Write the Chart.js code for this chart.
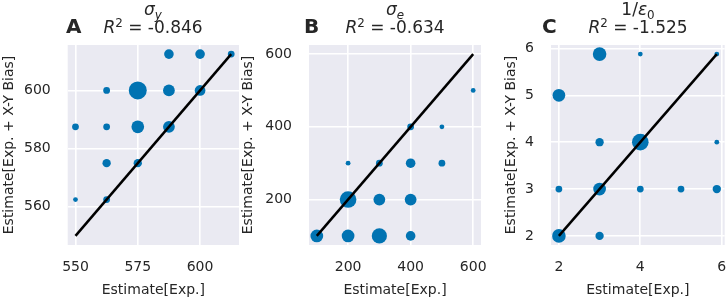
<!DOCTYPE html>
<html>
<head>
<meta charset="utf-8">
<script src="https://cdn.jsdelivr.net/npm/chart.js@4.4.1/dist/chart.umd.min.js"></script>
<style>
  body { margin: 0; background: #fff; }
  #wrap { position: relative; width: 726px; height: 299px; overflow: hidden; font-family: "DejaVu Sans"; color: #262626; }
  canvas { position: absolute; top: 0; }
  .ttl { position: absolute; top: 0; width: 200px; text-align: center; font-size: 17px; line-height: 18.3px; white-space: nowrap; }
  .ttl sub, .ttl sup { font-size: 0.7em; line-height: 0; position: relative; vertical-align: baseline; }
  .ttl sub { top: 0.35em; }
  .ttl sup { top: -0.5em; }
  .lbl { position: absolute; top: 16px; font-weight: bold; font-size: 20px; line-height: 20px; }
</style>
</head>
<body>
<div id="wrap">
  <canvas id="chartA" width="239" height="299" style="left:1px"></canvas>
  <canvas id="chartB" width="262" height="299" style="left:240px"></canvas>
  <canvas id="chartC" width="223" height="299" style="left:503px"></canvas>

  <div class="lbl" style="left:66px">A</div>
  <div class="ttl" style="left:53px"><i>σ</i><sub><i>y</i></sub><br><i>R</i><sup>2</sup> = -0.846</div>
  <div class="lbl" style="left:304px">B</div>
  <div class="ttl" style="left:295px"><i>σ</i><sub><i>e</i></sub><br><i>R</i><sup>2</sup> = -0.634</div>
  <div class="lbl" style="left:542px">C</div>
  <div class="ttl" style="left:538px">1/<i>ε</i><sub>0</sub><br><i>R</i><sup>2</sup> = -1.525</div>
</div>
<script>
// panel A: sigma_y
const aX = [587.5, 600, 612.5, 562.5, 575, 587.5, 600, 550, 562.5, 575, 587.5, 562.5, 575, 550, 562.5];
const aY = [612.5, 612.5, 612.5, 600, 600, 600, 600, 587.5, 587.5, 587.5, 587.5, 575, 575, 562.5, 562.5];
const aCount = [4, 4, 2, 2, 14, 6, 5, 2, 2, 7, 6, 3, 3, 1, 2];
const aTicksX = [550, 575, 600];
const aTicksY = [560, 580, 600];

// panel B: sigma_e
const bX = [600, 400, 500, 200, 300, 400, 500, 200, 300, 400, 100, 200, 300, 400];
const bY = [500, 400, 400, 300, 300, 300, 300, 200, 200, 200, 100, 100, 100, 100];
const bCount = [1, 2, 1, 1, 2, 4, 2, 12, 6, 6, 7, 7, 10, 4];
const bTicksX = [200, 400, 600];
const bTicksY = [200, 400, 600];

// panel C: 1/eps_0
const cX = [3, 4, 5.88, 2, 3, 4, 5.88, 2, 3, 4, 5, 5.88, 2, 3];
const cY = [5.88, 5.88, 5.88, 5, 4, 4, 4, 3, 3, 3, 3, 3, 2, 2];
const cCount = [8, 1, 1, 7, 3, 12, 1, 2, 7, 2, 2, 3, 8, 3];
const cTicksX = [2, 4, 6];
const cTicksY = [2, 3, 4, 5, 6];

const font = { family: "DejaVu Sans", size: 14 };
const ink = "#262626";
const blue = "#0173b2";

const bgPlugin = {
  id: "bg",
  beforeDraw(chart) {
    const { ctx, chartArea: a } = chart;
    ctx.save();
    ctx.fillStyle = "#eaeaf2";
    ctx.fillRect(a.left, a.top, a.right - a.left, a.bottom - a.top);
    ctx.restore();
  }
};

function makeChart(id, xs, ys, counts, ticksX, ticksY, yWidth, padRight) {
  const lo = Math.min(...xs, ...ys);
  const hi = Math.max(...xs, ...ys);
  const m = (hi - lo) * 0.05;

  const axis = (ticks, title, pad) => ({
    type: "linear",
    min: lo - m,
    max: hi + m,
    afterBuildTicks: s => { s.ticks = ticks.map(v => ({ value: v })); },
    ticks: { font, color: ink, padding: pad },
    grid: { color: "#fff", lineWidth: 1.6, drawTicks: false },
    border: { display: false },
    title: { display: true, text: title, font, color: ink, padding: 0 },
  });

  const x = axis(ticksX, "Estimate[Exp.]", 14);
  x.afterFit = s => { s.height = 54; s.paddingLeft = 0; s.paddingRight = 0; };
  const y = axis(ticksY, "Estimate[Exp. + X-Y Bias]", 17);
  y.afterFit = s => { s.width = yWidth; s.paddingTop = 0; s.paddingBottom = 0; };

  return new Chart(document.getElementById(id), {
    type: "bubble",
    data: {
      datasets: [
        {
          type: "line",
          data: [{ x: lo, y: lo }, { x: hi, y: hi }],
          borderColor: "#000",
          borderWidth: 2.5,
          pointRadius: 0,
          order: 0,
        },
        {
          data: xs.map((v, i) => ({ x: v, y: ys[i], r: 2.4 * Math.sqrt(counts[i]) })),
          backgroundColor: blue,
          borderWidth: 0,
          hoverRadius: 0,
          order: 1,
        },
      ],
    },
    options: {
      responsive: false,
      animation: false,
      devicePixelRatio: 1,
      events: [],
      layout: { autoPadding: false, padding: { top: 45, right: padRight, bottom: 0, left: 0 } },
      plugins: { legend: { display: false }, tooltip: { enabled: false } },
      scales: { x, y },
    },
    plugins: [bgPlugin],
  });
}

makeChart("chartA", aX, aY, aCount, aTicksX, aTicksY, 66.7, 1);
makeChart("chartB", bX, bY, bCount, bTicksX, bTicksY, 69, 21);
makeChart("chartC", cX, cY, cCount, cTicksX, cTicksY, 48, 1.3);
</script>
</body>
</html>
